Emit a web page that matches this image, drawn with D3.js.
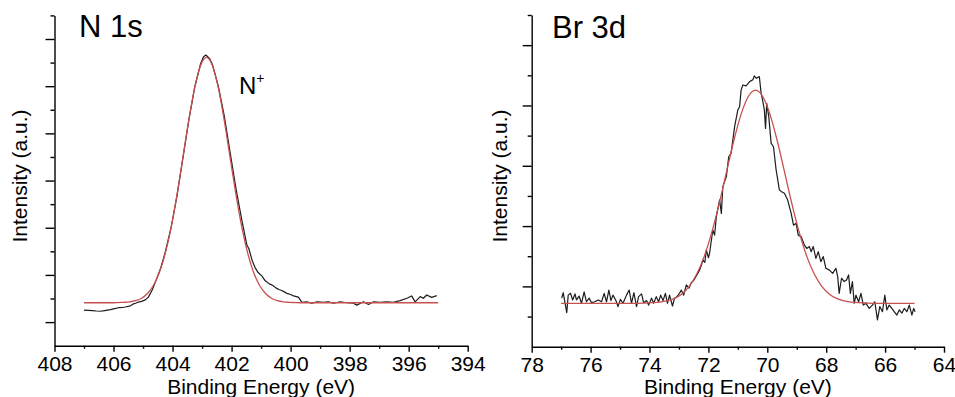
<!DOCTYPE html>
<html><head><meta charset="utf-8">
<script src="https://cdn.jsdelivr.net/npm/d3@7/dist/d3.min.js"></script>
<style>
body{margin:0;background:#fff}
svg{display:block}
text{font-family:Arial,"Liberation Sans",sans-serif;fill:#000}
</style>
</head><body>
<svg id="chart" width="955" height="397"></svg>
<script>
// ---------- N 1s panel data ----------
const n1sXMajor = [408,406,404,402,400,398,396,394];
const n1sXMinor = [407,405,403,401,399,397,395];
const n1sYMajor = [1,3,5,7,9,11,13];
const n1sYMinor = [2,4,6,8,10,12,14];
// measured spectrum [binding energy, intensity]
const n1sData = [
[407.0,1.51],[406.85,1.50],[406.71,1.49],[406.58,1.47],[406.44,1.46],[406.3,1.49],[406.21,1.51],[406.1,1.53],
[406.0,1.56],[405.83,1.61],[405.7,1.62],[405.6,1.64],[405.43,1.69],[405.33,1.77],[405.25,1.80],[405.16,1.85],
[405.05,1.88],[404.92,1.94],[404.82,2.06],[404.69,2.36],[404.55,2.8],[404.4,3.3],[404.25,3.95],[404.05,5.0],
[403.85,6.35],[403.65,7.95],[403.45,9.55],[403.25,10.95],[403.05,11.95],[402.95,12.25],[402.87,12.32],[402.75,12.18],
[402.65,11.92],[402.45,11.0],[402.25,9.75],[402.05,8.2],[401.85,6.65],[401.65,5.3],[401.48,4.25],[401.42,4.13],
[401.3,3.6],[401.2,3.3],[401.1,3.1],[400.97,2.95],[400.86,2.75],[400.72,2.62],[400.6,2.55],[400.5,2.45],
[400.4,2.38],[400.3,2.34],[400.2,2.27],[400.13,2.22],[400.0,2.17],[399.9,2.11],[399.8,2.08],[399.73,2.05],
[399.62,1.84],[399.45,1.86],[399.28,1.80],[399.11,1.86],[398.89,1.84],[398.72,1.86],[398.55,1.80],[398.32,1.86],
[398.09,1.82],[397.87,1.80],[397.76,1.72],[397.53,1.86],[397.36,1.75],[397.19,1.86],[396.97,1.84],[396.74,1.86],
[396.52,1.84],[396.29,1.91],[396.06,2.01],[395.9,2.11],[395.78,1.86],[395.61,2.08],[395.5,2.01],[395.39,2.15],
[395.22,2.05],[395.05,2.12]
];
// fitted peak
const n1sFit = [
[407,1.82],[406,1.82],[405.85,1.83],[405.65,1.84],[405.45,1.86],[405.25,1.91],[405.05,2.01],[404.85,2.21],
[404.65,2.55],[404.45,3.09],[404.25,3.90],[404.05,5.00],[403.85,6.39],[403.65,7.97],[403.45,9.56],[403.25,10.94],
[403.05,11.88],[402.85,12.22],[402.65,11.88],[402.45,10.94],[402.25,9.56],[402.05,7.97],[401.85,6.39],[401.65,5.00],
[401.45,3.90],[401.25,3.09],[401.05,2.55],[400.85,2.21],[400.65,2.01],[400.45,1.91],[400.25,1.86],[400.05,1.84],
[399.85,1.83],[399.5,1.82],[395,1.82]
];

// ---------- Br 3d panel data ----------
const br3dXMajor = [78,76,74,72,70,68,66,64];
const br3dXMinor = [77,75,73,71,69,67,65];
const br3dYMajor = [2,4,6,8,10];
const br3dYMinor = [1,3,5,7,9,11];
const br3dData = [
[76.98,1.61],[76.93,1.79],[76.81,1.13],[76.76,1.71],[76.68,1.77],[76.61,1.55],[76.53,1.75],[76.48,1.55],
[76.39,1.68],[76.31,1.44],[76.22,1.82],[76.14,1.49],[76.05,1.61],[75.97,1.46],[75.86,1.49],[75.74,1.55],
[75.63,1.49],[75.54,1.77],[75.46,1.49],[75.38,1.88],[75.31,1.53],[75.24,1.71],[75.14,1.53],[75.07,1.33],
[74.99,1.57],[74.90,1.44],[74.78,1.71],[74.69,1.88],[74.61,1.44],[74.53,1.79],[74.44,1.33],[74.37,1.66],
[74.27,1.75],[74.20,1.46],[74.10,1.53],[74.03,1.38],[73.93,1.61],[73.86,1.44],[73.77,1.66],[73.69,1.49],
[73.62,1.71],[73.54,1.53],[73.46,1.77],[73.39,1.44],[73.32,1.71],[73.22,1.35],[73.15,1.61],[73.07,1.66],
[72.98,1.77],[72.92,1.88],[72.84,1.71],[72.75,2.05],[72.66,1.94],[72.58,2.12],[72.49,2.21],[72.41,2.35],
[72.30,2.54],[72.24,2.70],[72.19,2.88],[72.12,2.80],[72.07,3.21],[72.00,2.95],[71.96,3.10],[71.85,3.87],
[71.79,3.70],[71.73,4.31],[71.62,4.87],[71.56,4.42],[71.51,5.31],[71.39,5.64],[71.31,6.30],[71.23,6.41],
[71.11,7.30],[71.00,7.85],[70.94,7.96],[70.89,8.51],[70.83,8.68],[70.72,8.65],[70.60,8.79],[70.49,8.85],
[70.44,8.98],[70.37,8.90],[70.27,8.96],[70.21,8.40],[70.16,8.18],[70.10,7.85],[70.06,7.24],[70.02,8.07],
[69.95,7.63],[69.87,6.75],[69.79,6.63],[69.70,5.86],[69.59,5.20],[69.53,5.15],[69.42,5.09],[69.31,4.87],
[69.19,4.42],[69.11,4.03],[69.02,4.09],[68.95,3.70],[68.85,3.65],[68.74,3.37],[68.66,3.26],[68.57,3.32],
[68.51,3.15],[68.44,3.32],[68.35,2.93],[68.27,3.15],[68.18,2.82],[68.10,2.99],[68.01,2.60],[67.89,2.54],
[67.78,2.43],[67.67,2.60],[67.61,2.32],[67.56,1.77],[67.48,2.27],[67.39,2.16],[67.31,2.21],[67.24,2.38],
[67.18,1.77],[67.11,2.16],[67.05,1.44],[66.99,1.71],[66.90,1.49],[66.82,1.77],[66.74,1.38],[66.65,1.44],
[66.54,1.27],[66.43,1.38],[66.35,1.49],[66.26,0.89],[66.18,1.33],[66.09,1.16],[66.01,1.71],[65.94,1.22],
[65.86,1.38],[65.77,1.27],[65.69,1.16],[65.60,1.05],[65.52,1.22],[65.43,1.11],[65.35,1.27],[65.26,1.16],
[65.18,1.38],[65.09,1.05],[65.03,1.27],[64.98,1.16]
];
const br3dFit = [
[77,1.44],[74.5,1.44],[74.15,1.45],[73.90,1.46],[73.65,1.48],[73.40,1.52],[73.15,1.60],[72.90,1.75],
[72.65,2.00],[72.40,2.40],[72.15,2.97],[71.90,3.74],[71.65,4.68],[71.40,5.73],[71.15,6.78],[70.90,7.68],
[70.65,8.29],[70.40,8.51],[70.15,8.29],[69.90,7.68],[69.65,6.78],[69.40,5.73],[69.15,4.68],[68.90,3.74],
[68.65,2.97],[68.40,2.40],[68.15,2.00],[67.90,1.75],[67.65,1.60],[67.40,1.52],[67.15,1.48],[66.90,1.46],
[66.65,1.45],[66.3,1.44],[65,1.44]
];

const xTitle = "Binding Energy (eV)";
const yTitle = "Intensity (a.u.)";

const svg = d3.select("#chart");

function drawPanel(p) {
  const g = svg.append("g");
  const x = d3.scaleLinear().domain(p.xDomain).range(p.xRange);
  const y = d3.scaleLinear().domain(p.yDomain).range(p.yRange);
  const y0 = p.yRange[0], x0 = p.xRange[0];

  // x minor ticks
  g.append("g").attr("transform", `translate(0,${y0})`)
    .call(d3.axisBottom(x).tickValues(p.xMinor).tickSize(3).tickSizeOuter(0).tickFormat(""))
    .call(s => s.select(".domain").remove());
  // x major ticks
  const ax = g.append("g").attr("transform", `translate(0,${y0})`)
    .call(d3.axisBottom(x).tickValues(p.xMajor).tickSize(6).tickPadding(4).tickSizeOuter(0).tickFormat(d3.format("d")));
  ax.selectAll("text").style("font-size", "21px").attr("font-family", null);
  // y minor
  g.append("g").attr("transform", `translate(${x0},0)`)
    .call(d3.axisLeft(y).tickValues(p.yMinor).tickSize(4).tickSizeOuter(0).tickFormat(""))
    .call(s => s.select(".domain").remove());
  // y major
  g.append("g").attr("transform", `translate(${x0},0)`)
    .call(d3.axisLeft(y).tickValues(p.yMajor).tickSize(9).tickSizeOuter(0).tickFormat(""));
  g.selectAll(".domain, .tick line").attr("stroke", "#000").attr("stroke-width", 1.4);

  const line = d3.line().x(d => x(d[0])).y(d => y(d[1]));
  g.append("path").datum(p.data).attr("fill", "none").attr("stroke", "#1c1c1c")
    .attr("stroke-width", 1.2).attr("stroke-linejoin", "round").attr("d", line);
  g.append("path").datum(p.fit).attr("fill", "none").attr("stroke", "#c8504f")
    .attr("stroke-width", 1.3).attr("d", line.curve(d3.curveMonotoneX));

  // titles
  g.append("text").attr("x", (p.xRange[0] + p.xRange[1]) / 2).attr("y", 394)
    .attr("text-anchor", "middle").style("font-size", "21px").text(xTitle);
  g.append("text").attr("transform", `translate(${p.yLabelX},${p.yLabelY}) rotate(-90)`)
    .attr("text-anchor", "middle").style("font-size", "21px").text(yTitle);
  g.append("text").attr("x", p.titleX).attr("y", p.titleY)
    .style("font-size", "31px").text(p.title);
  return {g, x, y};
}

const left = drawPanel({
  xDomain: [408, 394], xRange: [54.5, 467.7],
  yDomain: [0, 14], yRange: [345.7, 15.4],
  xMajor: n1sXMajor, xMinor: n1sXMinor, yMajor: n1sYMajor, yMinor: n1sYMinor,
  data: n1sData, fit: n1sFit,
  yLabelX: 27, yLabelY: 176, titleX: 79, titleY: 37, title: "N 1s"
});
const nl = left.g.append("text").attr("x", 239).attr("y", 94).style("font-size", "24px");
nl.append("tspan").text("N");
nl.append("tspan").attr("dy", -11).style("font-size", "14px").text("+");

drawPanel({
  xDomain: [78, 64], xRange: [531.7, 944],
  yDomain: [0, 11], yRange: [346.7, 15],
  xMajor: br3dXMajor, xMinor: br3dXMinor, yMajor: br3dYMajor, yMinor: br3dYMinor,
  data: br3dData, fit: br3dFit,
  yLabelX: 507, yLabelY: 176, titleX: 552, titleY: 38, title: "Br 3d"
});
</script>
</body></html>
